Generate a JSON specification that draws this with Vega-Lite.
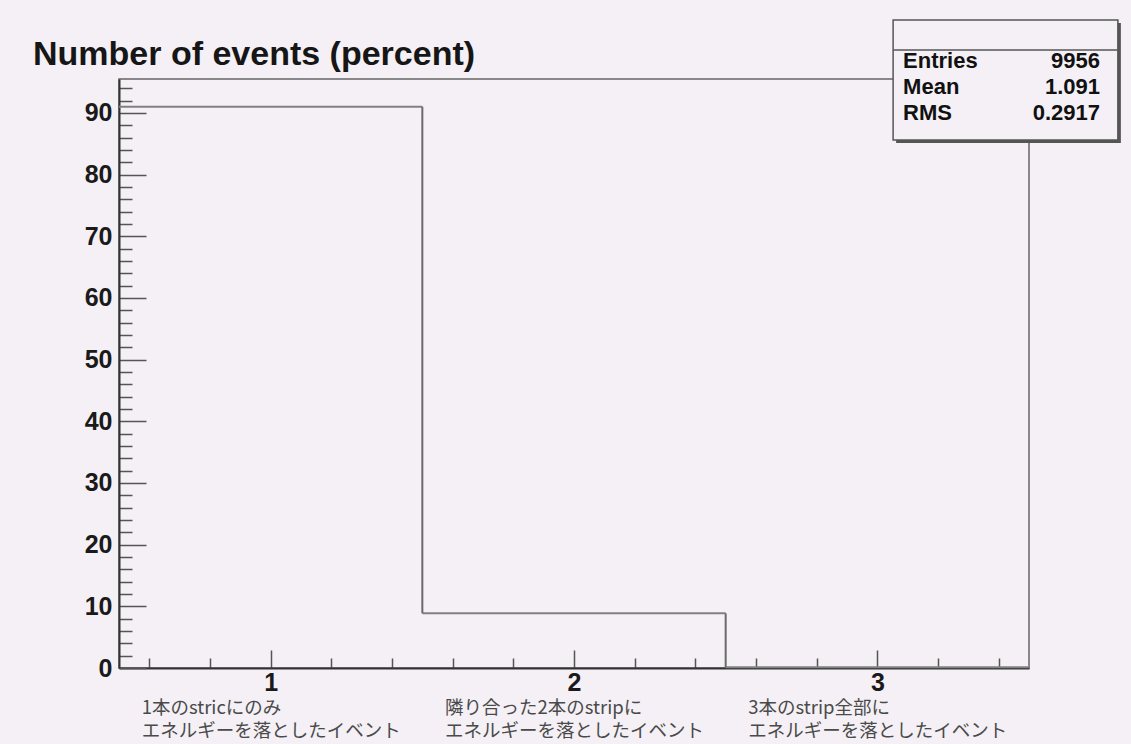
{
  "$schema": "https://vega.github.io/schema/vega-lite/v6.json",
  "width": 910,
  "height": 589,
  "autosize": {"type": "none"},
  "padding": {"left": 119, "top": 79, "right": 102, "bottom": 76},
  "background": "#f4f0f5",
  "title": {
    "text": "Number of events (percent)",
    "anchor": "start",
    "frame": "group",
    "dx": -86,
    "dy": 94,
    "offset": 14,
    "baseline": "alphabetic",
    "font": "Liberation Sans",
    "fontSize": 34,
    "fontWeight": "bold",
    "color": "#161616"
  },
  "config": {
    "view": {"stroke": "#666666", "strokeWidth": 1.5, "fill": "#f4f0f5"},
    "axis": {
      "domainColor": "#333333",
      "domainWidth": 2,
      "tickColor": "#555555",
      "tickWidth": 1.5,
      "labelFont": "Liberation Sans",
      "labelFontWeight": "bold",
      "labelFontSize": 25,
      "labelColor": "#1a1a1a",
      "grid": false,
      "title": null,
      "labelFlush": false,
      "labelOverlap": false,
      "labelBound": false
    }
  },
  "datasets": {
    "hist": [
      {"bin": 1, "lo": 0.5, "hi": 1.5, "pct": 91.02, "desc": "1本のstricにのみ\nエネルギーを落としたイベント"},
      {"bin": 2, "lo": 1.5, "hi": 2.5, "pct": 8.86, "desc": "隣り合った2本のstripに\nエネルギーを落としたイベント"},
      {"bin": 3, "lo": 2.5, "hi": 3.5, "pct": 0.12, "desc": "3本のstrip全部に\nエネルギーを落としたイベント"}
    ],
    "stats": [
      {"stat": "Entries", "value": "9956"},
      {"stat": "Mean", "value": "1.091"},
      {"stat": "RMS", "value": "0.2917"}
    ],
    "box": [{"box": "stats"}]
  },
  "layer": [
    {
      "data": {"name": "hist"},
      "mark": {"type": "rule", "color": "#808080", "strokeWidth": 2},
      "encoding": {
        "x": {
          "field": "lo",
          "type": "quantitative",
          "scale": {"domain": [0.5, 3.5], "nice": false, "zero": false},
          "axis": {
            "values": [0.6, 0.7, 0.8, 0.9, 1, 1.1, 1.2, 1.3, 1.4, 1.5, 1.6, 1.7, 1.8, 1.9, 2, 2.1, 2.2, 2.3, 2.4, 2.5, 2.6, 2.7, 2.8, 2.9, 3, 3.1, 3.2, 3.3, 3.4],
            "tickSize": {"condition": {"test": "abs(datum.value*2-round(datum.value*2))<0.001", "value": -18}, "value": -10},
            "labelExpr": "abs(datum.value-round(datum.value))<0.001 ? format(datum.value,'d') : ''",
            "labelPadding": 20,
            "labelAngle": 0,
            "labelBaseline": "top"
          }
        },
        "x2": {"field": "hi"},
        "y": {
          "field": "pct",
          "type": "quantitative",
          "scale": {"domain": [0, 95.5], "nice": false, "zero": true},
          "axis": {
            "values": [0, 2, 4, 6, 8, 10, 12, 14, 16, 18, 20, 22, 24, 26, 28, 30, 32, 34, 36, 38, 40, 42, 44, 46, 48, 50, 52, 54, 56, 58, 60, 62, 64, 66, 68, 70, 72, 74, 76, 78, 80, 82, 84, 86, 88, 90, 92, 94],
            "tickSize": {"condition": {"test": "datum.value % 10 === 0", "value": -27}, "value": -13},
            "labelExpr": "datum.value % 10 === 0 ? datum.label : ''",
            "labelPadding": 34
          }
        }
      }
    },
    {
      "data": {"name": "hist"},
      "transform": [
        {"window": [{"op": "lead", "field": "pct", "as": "next"}], "sort": [{"field": "bin", "order": "ascending"}]},
        {"filter": "datum.next != null"}
      ],
      "mark": {"type": "rule", "color": "#6a6a6a", "strokeWidth": 2},
      "encoding": {
        "x": {"field": "hi", "type": "quantitative"},
        "y": {"field": "pct", "type": "quantitative", "scale": {"domain": [0, 95.5], "nice": false}, "axis": null},
        "y2": {"field": "next"}
      }
    },
    {
      "data": {"name": "hist"},
      "mark": {
        "type": "text",
        "align": "left",
        "baseline": "top",
        "dx": -129,
        "dy": 31,
        "lineBreak": "\n",
        "lineHeight": 22.5,
        "font": "Noto Sans CJK JP",
        "fontSize": 18.5,
        "color": "#4a4a4a"
      },
      "encoding": {
        "x": {"field": "bin", "type": "quantitative"},
        "y": {"datum": 0, "type": "quantitative", "scale": {"domain": [0, 95.5], "nice": false}, "axis": null},
        "text": {"field": "desc", "type": "nominal"}
      }
    },
    {
      "data": {"name": "box"},
      "mark": {"type": "rect", "fill": "#555555", "xOffset": 3, "x2Offset": 3, "yOffset": 3, "y2Offset": 3},
      "encoding": {
        "x": {"datum": 3.052, "type": "quantitative"},
        "x2": {"datum": 3.793},
        "y": {"datum": 105.06, "type": "quantitative", "scale": {"domain": [0, 95.5], "nice": false}, "axis": null},
        "y2": {"datum": 85.6}
      }
    },
    {
      "data": {"name": "box"},
      "mark": {"type": "rect", "fill": "#f4f0f5", "stroke": "#555555", "strokeWidth": 1.5},
      "encoding": {
        "x": {"datum": 3.052, "type": "quantitative"},
        "x2": {"datum": 3.793},
        "y": {"datum": 105.06, "type": "quantitative", "scale": {"domain": [0, 95.5], "nice": false}, "axis": null},
        "y2": {"datum": 85.6}
      }
    },
    {
      "data": {"name": "box"},
      "mark": {"type": "rule", "color": "#555555", "strokeWidth": 1.5},
      "encoding": {
        "x": {"datum": 3.052, "type": "quantitative"},
        "x2": {"datum": 3.793},
        "y": {"datum": 100.2, "type": "quantitative", "scale": {"domain": [0, 95.5], "nice": false}, "axis": null}
      }
    },
    {
      "data": {"name": "stats"},
      "mark": {"type": "text", "align": "left", "baseline": "alphabetic", "font": "Liberation Sans", "fontWeight": "bold", "fontSize": 22, "color": "#111111"},
      "encoding": {
        "x": {"datum": 3.085, "type": "quantitative"},
        "y": {"field": "stat", "type": "ordinal", "scale": {"domain": ["Entries", "Mean", "RMS"], "range": [-11, 41], "padding": 0}, "axis": null},
        "text": {"field": "stat", "type": "nominal"}
      }
    },
    {
      "data": {"name": "stats"},
      "mark": {"type": "text", "align": "right", "baseline": "alphabetic", "font": "Liberation Sans", "fontWeight": "bold", "fontSize": 22, "color": "#111111"},
      "encoding": {
        "x": {"datum": 3.734, "type": "quantitative"},
        "y": {"field": "stat", "type": "ordinal", "scale": {"domain": ["Entries", "Mean", "RMS"], "range": [-11, 41], "padding": 0}, "axis": null},
        "text": {"field": "value", "type": "nominal"}
      }
    }
  ],
  "resolve": {"scale": {"y": "independent"}}
}
